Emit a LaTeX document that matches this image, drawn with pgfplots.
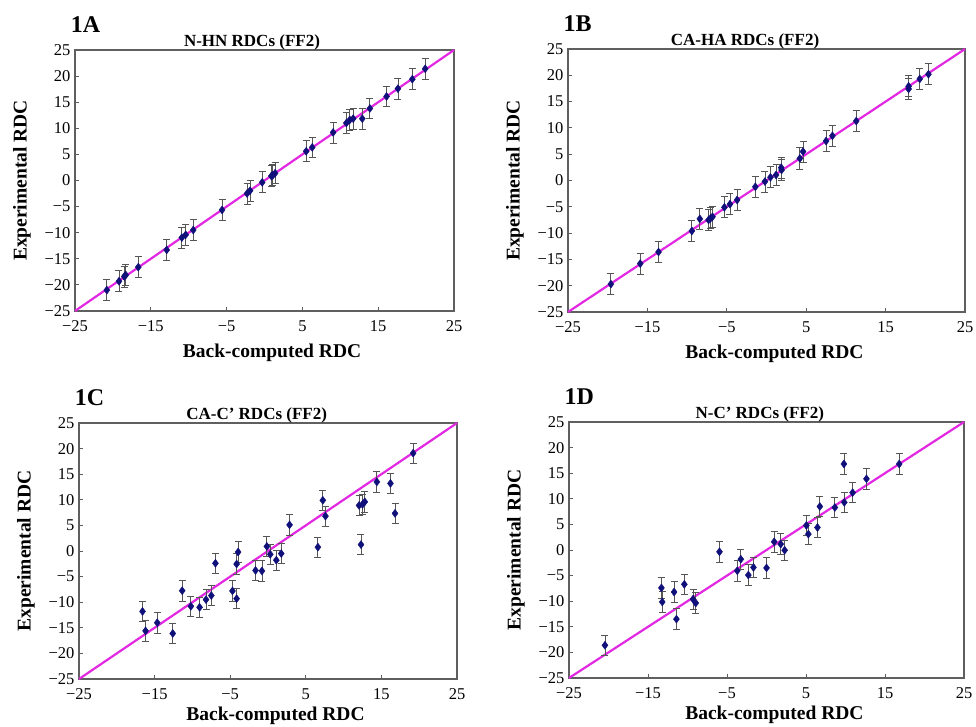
\documentclass[border=0pt]{standalone}
\usepackage{pgfplots}
\pgfplotsset{compat=1.18}
\usepackage{fontspec}
\setmainfont{Liberation Serif}
\definecolor{navyb}{RGB}{16,16,122}
\definecolor{mag}{RGB}{226,40,226}
\definecolor{axgray}{RGB}{95,95,95}
\definecolor{ebgray}{RGB}{85,85,85}
\pgfplotsset{
  rdc/.style={scale only axis, anchor=south west,
    xmin=-25,xmax=25,ymin=-25,ymax=25,
    xtick={-25,-15,-5,5,15,25}, xticklabels={−25,−15,−5,5,15,25},
    ytick={-25,-20,-15,-10,-5,0,5,10,15,20,25},
    yticklabels={−25,−20,−15,−10,−5,0,5,10,15,20,25},
    tick align=inside, tick pos=left, major tick length=4pt,
    axis line style={draw=axgray, line width=1.1pt},
    tick style={draw=axgray, line width=0.8pt},
    ticklabel style={font=\fontsize{16.5}{16.5}\selectfont},
    xticklabel style={yshift=-6pt},
    yticklabel style={xshift=-1pt},
    clip=false},
  diag/.style={mag, line width=2.2pt},
  pts/.style={only marks, mark=diamond*, mark size=4pt, color=navyb,
    error bars/.cd, y dir=both, y fixed=2,
    error bar style={ebgray, line width=0.8pt},
    error mark options={ebgray, mark size=3.5pt, line width=0.8pt, rotate=90}},
}
\newcommand{\panellabel}[1]{\node[font=\fontsize{24}{24}\selectfont\bfseries, anchor=base west] at (rel axis cs:-0.02,1) [yshift=17pt] {#1};}
\newcommand{\paneltitle}[2]{\node[font=\fontsize{17}{17}\selectfont\bfseries, anchor=base] at (rel axis cs:#1,1) [yshift=3pt] {#2};}
\newcommand{\xlab}[1]{\node[font=\fontsize{19.5}{19.5}\selectfont\bfseries, anchor=base] at (rel axis cs:0.52,0) [yshift=-#1pt] {Back-computed RDC};}
\newcommand{\ylab}{\node[xshift=-53pt, font=\fontsize{19.5}{19.5}\selectfont\bfseries, rotate=90, anchor=center] at (rel axis cs:0,0.5) {Experimental RDC};}
\begin{document}
\begin{tikzpicture}[x=1pt,y=1pt]
\path[use as bounding box] (0,0) rectangle (976,727);
% Panel A
\begin{axis}[rdc, at={(75pt,416pt)}, width=379pt, height=261pt]
\addplot[diag] coordinates {(-25,-25) (25,25)};
\addplot[pts] coordinates {
(-20.8,-21.0) (-19.2,-19.3) (-18.5,-18.4) (-18.3,-18.1) (-16.65,-16.6)
(-12.9,-13.3) (-10.9,-10.95) (-10.4,-10.4) (-9.4,-9.5) (-5.6,-5.65)
(-2.3,-2.5) (-1.9,-1.95) (-0.3,-0.35) (0.9,0.86) (1.4,1.4) (1.1,1.0)
(5.5,5.6) (6.3,6.35) (9.05,9.2) (10.8,11.0) (11.25,11.6) (11.7,11.85)
(12.9,11.85) (13.9,13.8) (16.1,16.1) (17.6,17.6) (19.5,19.4) (21.2,21.4)};
\panellabel{1A}
\paneltitle{0.467}{N-HN RDCs (FF2)}
\xlab{47}
\ylab
\end{axis}
% Panel B
\begin{axis}[rdc, at={(568pt,415pt)}, width=397pt, height=263pt]
\addplot[diag] coordinates {(-25,-25) (25,25)};
\addplot[pts] coordinates {
(-19.6,-19.7) (-15.9,-15.8) (-13.6,-13.6) (-9.4,-9.6) (-8.4,-7.3)
(-7.3,-7.5) (-7.05,-7.2) (-6.8,-6.9) (-5.3,-5.1) (-4.6,-4.5) (-3.7,-3.7)
(-1.4,-1.2) (-0.2,-0.2) (0.5,0.6) (1.2,1.05) (1.85,2.45) (1.9,2.0)
(4.2,4.2) (4.6,5.5) (7.5,7.5) (8.3,8.5) (11.3,11.3) (17.9,17.4)
(17.9,17.9) (19.3,19.3) (20.4,20.2)};
\panellabel{1B}
\paneltitle{0.446}{CA-HA RDCs (FF2)}
\xlab{47}
\ylab
\end{axis}
% Panel C
\begin{axis}[rdc, at={(79pt,48pt)}, width=378pt, height=256pt]
\addplot[diag] coordinates {(-25,-25) (25,25)};
\addplot[pts] coordinates {
(-16.6,-11.8) (-16.2,-15.6) (-14.65,-14.0) (-12.6,-16.1) (-11.35,-7.75)
(-10.2,-10.8) (-9.05,-11.0) (-8.2,-9.5) (-7.5,-8.7) (-6.95,-2.4)
(-4.7,-7.8) (-4.15,-9.3) (-4.15,-2.55) (-3.95,-0.2) (-1.65,-3.8)
(-0.8,-3.9) (-0.15,0.9) (0.3,-0.65) (1.1,-1.8) (1.75,-0.5) (2.85,5.1)
(6.6,0.75) (7.25,9.9) (7.6,6.8) (12.05,8.9) (12.3,1.25) (12.5,9.1)
(12.8,9.6) (14.4,13.5) (16.2,13.2) (16.8,7.35) (19.2,19.1)};
\panellabel{1C}
\paneltitle{0.47}{CA-C' RDCs (FF2)}
\xlab{42}
\ylab
\end{axis}
% Panel D
\begin{axis}[rdc, at={(569pt,49pt)}, width=395pt, height=256pt]
\addplot[diag] coordinates {(-25,-25) (25,25)};
\addplot[pts] coordinates {
(-20.45,-18.6) (-13.3,-7.4) (-13.2,-10.15) (-11.7,-8.2) (-11.4,-13.5)
(-10.4,-6.7) (-9.3,-9.6) (-8.95,-10.35) (-5.95,-0.35) (-3.7,-4.05)
(-3.25,-1.8) (-2.3,-4.9) (-1.65,-3.4) (0.0,-3.5) (0.97,1.6) (1.8,1.15)
(2.3,-0.05) (5.05,4.8) (5.3,3.1) (6.45,4.4) (6.75,8.5) (8.65,8.3)
(9.8,16.8) (9.85,9.3) (10.9,11.2) (12.65,13.9) (16.8,16.8)};
\panellabel{1D}
\paneltitle{0.483}{N-C' RDCs (FF2)}
\xlab{42}
\ylab
\end{axis}
\end{tikzpicture}
\end{document}
